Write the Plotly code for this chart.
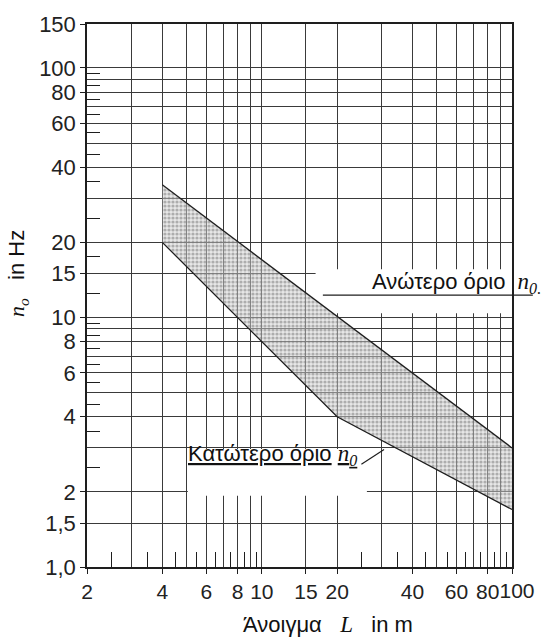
import math
import plotly.graph_objects as go

# ---- data ----
upper_L = [4, 100]
upper_n = [34, 3.0]
lower_L = [4, 20, 100]
lower_n = [20, 4.0, 1.7]

x_labeled = [2, 4, 6, 8, 10, 15, 20, 40, 60, 80, 100]
x_labels = ["2", "4", "6", "8", "10", "15", "20", "40", "60", "80", ""]
x_end_val = [100]
x_end_label = ["100"]
x_grid_extra = [3, 5, 7, 9, 30, 50, 70, 90]
x_short = [2.5, 3.5, 4.5, 5.5, 6.5, 7.5, 8.5, 9.5, 25, 35, 45, 55, 65, 75, 85, 95]

y_labeled = [1, 1.5, 2, 4, 6, 8, 10, 15, 20, 40, 60, 80, 100, 150]
y_labels = ["1,0", "1,5", "2", "4", "6", "8", "10", "15", "20", "40", "60", "80", "100", "150"]
y_grid_extra = [3, 5, 7, 9, 30, 50, 70, 90]
y_short = [2.5, 3.5, 4.5, 5.5, 6.5, 7.5, 8.5, 9.5, 12.5, 17.5, 25, 35, 45, 55, 65, 75, 85, 95]

x_range = [math.log10(2), math.log10(100)]
y_range = [0, math.log10(150)]

SANS = "Liberation Sans, Arial, sans-serif"
SERIF = "Liberation Serif"
GRID = "#3a3a3a"
INK = "#1e1e1e"

fig = go.Figure()

# shaded band
poly_x = upper_L + lower_L[::-1]
poly_y = upper_n + lower_n[::-1]
fig.add_trace(go.Scatter(
    x=poly_x, y=poly_y, mode="lines", fill="toself",
    line=dict(width=0, color="rgba(0,0,0,0)"),
    fillcolor="rgba(195,195,195,0.6)",
    fillpattern=dict(shape=".", size=4, solidity=0.5,
                     fgcolor="#767676", bgcolor="rgba(205,205,205,0.5)"),
    hoverinfo="skip", showlegend=False))

# boundary lines
fig.add_trace(go.Scatter(x=upper_L, y=upper_n, mode="lines",
                         line=dict(color=INK, width=1.3), showlegend=False))
fig.add_trace(go.Scatter(x=lower_L, y=lower_n, mode="lines",
                         line=dict(color=INK, width=1.3), showlegend=False))

# dummy traces for the overlay axes
fig.add_trace(go.Scatter(x=[None], y=[None], xaxis="x2", yaxis="y2",
                         mode="markers", showlegend=False, hoverinfo="skip"))
fig.add_trace(go.Scatter(x=[None], y=[None], xaxis="x3", yaxis="y",
                         mode="markers", showlegend=False, hoverinfo="skip"))

xfont = dict(family=SANS, size=21, color="#222")

fig.update_layout(
    width=548, height=640,
    margin=dict(l=87, r=36, t=17, b=73),
    paper_bgcolor="white", plot_bgcolor="white",
    showlegend=False,
    xaxis=dict(
        type="log", range=x_range,
        tickmode="array", tickvals=x_labeled, ticktext=x_labels,
        ticks="outside", ticklen=5, tickcolor=INK, tickwidth=1,
        tickfont=xfont, tickangle=0,
        showgrid=True, gridcolor=GRID, gridwidth=1,
        minor=dict(tickmode="array", tickvals=x_grid_extra, showgrid=True,
                   gridcolor=GRID, gridwidth=1, ticks=""),
        showline=True, mirror=True, linecolor=INK, linewidth=1.5,
        zeroline=False,
    ),
    yaxis=dict(
        type="log", range=y_range,
        tickmode="array", tickvals=y_labeled, ticktext=y_labels,
        ticks="outside", ticklen=5, tickcolor=INK, tickwidth=1,
        tickfont=dict(family=SANS, size=22, color="#222"),
        showgrid=True, gridcolor=GRID, gridwidth=1,
        minor=dict(tickmode="array", tickvals=y_grid_extra, showgrid=True,
                   gridcolor=GRID, gridwidth=1, ticks=""),
        showline=True, mirror=True, linecolor=INK, linewidth=1.5,
        zeroline=False,
    ),
    xaxis2=dict(
        type="log", range=x_range, overlaying="x", anchor="y2", side="bottom",
        tickmode="array", tickvals=x_short, ticks="inside", ticklen=15,
        tickcolor=INK, tickwidth=1, showticklabels=False, showgrid=False,
        showline=False, zeroline=False,
    ),
    xaxis3=dict(
        type="log", range=x_range, overlaying="x", anchor="y", side="bottom",
        tickmode="array", tickvals=x_end_val, ticktext=x_end_label,
        ticks="outside", ticklen=5, tickcolor=INK, tickwidth=1,
        tickfont=xfont, tickangle=0, ticklabelshift=5,
        showgrid=False, showline=False, zeroline=False,
    ),
    yaxis2=dict(
        type="log", range=y_range, overlaying="y", anchor="x2", side="left",
        tickmode="array", tickvals=y_short, ticks="inside", ticklen=13,
        tickcolor=INK, tickwidth=1, showticklabels=False, showgrid=False,
        showline=False, zeroline=False,
    ),
)

# white label boxes (over grid, under the band)
fig.add_shape(type="rect", xref="x", yref="y", x0=16.4, x1=120, y0=10.4, y1=15.6,
              fillcolor="white", line=dict(width=0), layer="between")
fig.add_shape(type="rect", xref="x", yref="y", x0=5.06, x1=26.3, y0=1.93, y1=2.97,
              fillcolor="white", line=dict(width=0), layer="between")

# leader lines
fig.add_shape(type="line", xref="paper", yref="y", x0=0.555, x1=1.049, y0=12.3, y1=12.3,
              line=dict(color=INK, width=1.2), layer="above")
fig.add_shape(type="line", xref="x", yref="y", x0=25.0, x1=30.8, y0=2.58, y1=2.96,
              line=dict(color=INK, width=1.2), layer="above")

def nsub(sub, size=23, u=False):
    s = (f"<span style=\"font-family:'{SERIF}';font-size:{size}px\"><i>n</i>"
         f"<sub><i>{sub}</i></sub></span>")
    return f"<u>{s}</u>" if u else s

fig.add_annotation(
    xref="paper", yref="paper", x=0.666, y=0.5236, xanchor="left", yanchor="middle",
    text="Ανώτερο όριο  " + nsub("0."), showarrow=False,
    font=dict(family=SANS, size=22, color="#111"))

fig.add_annotation(
    xref="paper", yref="paper", x=0.233, y=0.207, xanchor="left", yanchor="middle",
    text="<u>Κατώτερο όριο</u> " + nsub("0", u=True), showarrow=False,
    font=dict(family=SANS, size=22, color="#111"))

# axis titles
fig.add_annotation(
    xref="paper", yref="paper", x=0.568, y=0, xanchor="center", yanchor="middle",
    yshift=-57,
    text="Άνοιγμα&#160;&#160;&#160;<span style=\"font-family:'Liberation Serif';font-size:23px\"><i>L</i></span>&#160;&#160;&#160;in m",
    showarrow=False, font=dict(family=SANS, size=22, color="#111"))

fig.add_annotation(
    xref="paper", yref="paper", x=-0.162, y=0.54, xanchor="center", yanchor="middle",
    textangle=-90,
    text="<span style=\"font-family:'Liberation Serif';font-size:22px\"><i>n</i><sub><i>o</i></sub></span>&#160;&#160;&#160;in Hz",
    showarrow=False, font=dict(family=SANS, size=22, color="#111"))

fig.write_html("out.html")
